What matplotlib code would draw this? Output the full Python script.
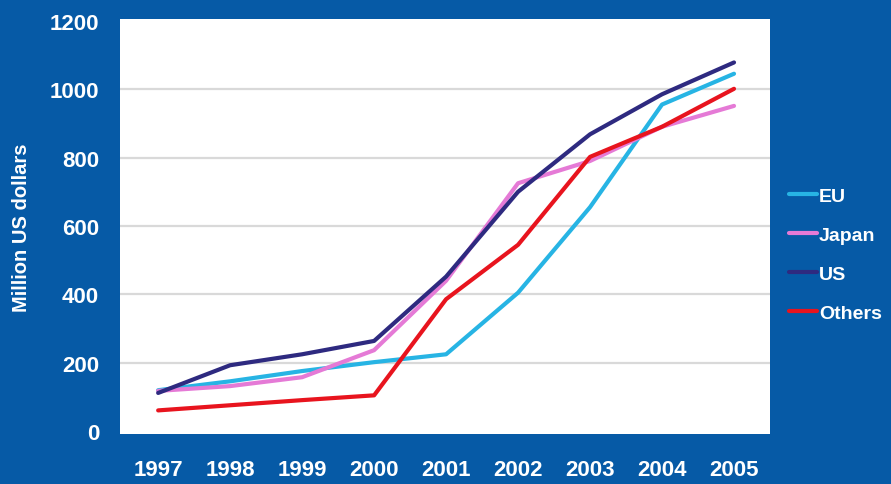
import matplotlib.pyplot as plt
from matplotlib import font_manager

years = [1997, 1998, 1999, 2000, 2001, 2002, 2003, 2004, 2005]
eu = [120, 146, 176, 202, 225, 405, 655, 955, 1045]
japan = [118, 132, 158, 237, 440, 725, 790, 890, 951]
us = [112, 193, 225, 264, 452, 700, 868, 985, 1078]
others = [61, 76, 91, 105, 386, 545, 802, 890, 1001]

series = [('EU', eu, '#27b4e4'), ('Japan', japan, '#e57ad6'),
          ('US', us, '#2e2a80'), ('Others', others, '#e8141e')]
y_ticks = [0, 200, 400, 600, 800, 1000, 1200]

names = {f.name for f in font_manager.fontManager.ttflist}
fam = 'Liberation Sans Narrow' if 'Liberation Sans Narrow' in names else 'Liberation Sans'
plt.rcParams['font.family'] = [fam, 'DejaVu Sans']

bg = '#065aa6'
fig = plt.figure(figsize=(8.91, 4.85), dpi=100, facecolor=bg)
ax = fig.add_axes([120 / 891, (485 - 435) / 485, 650 / 891, 415 / 485])
ax.set_facecolor('white')

for y in y_ticks[1:-1]:
    ax.axhline(y, color='#d9d9d9', lw=1.6, zorder=1)

for name, vals, col in series:
    ax.plot(years, vals, color=col, lw=3, label=name, zorder=3,
            solid_capstyle='round')

ax.set_xlim(1996.47, 2005.5)
ax.set_ylim(-8, 1205)
ax.set_xticks(years)
ax.set_yticks(y_ticks)
ax.tick_params(length=0, colors='white', labelsize=16)
ax.tick_params(axis='y', pad=15)
ax.tick_params(axis='x', pad=18)
for lab in ax.get_xticklabels() + ax.get_yticklabels():
    lab.set_fontweight('bold')
for s in ax.spines.values():
    s.set_visible(False)

ax.set_ylabel('Million US dollars', color='white', fontsize=14.5,
              fontweight='bold')
ax.yaxis.set_label_coords(-0.137, 0.5)

leg = fig.legend(loc='upper left', bbox_to_anchor=(789 / 891, 1 - 188 / 485),
                 frameon=False, borderpad=0, borderaxespad=0,
                 handlelength=1.45, handletextpad=0.1, labelspacing=1.1,
                 prop={'weight': 'bold', 'size': 14})
for t in leg.get_texts():
    t.set_color('white')

fig.savefig('out.png', dpi=100, facecolor=bg)
